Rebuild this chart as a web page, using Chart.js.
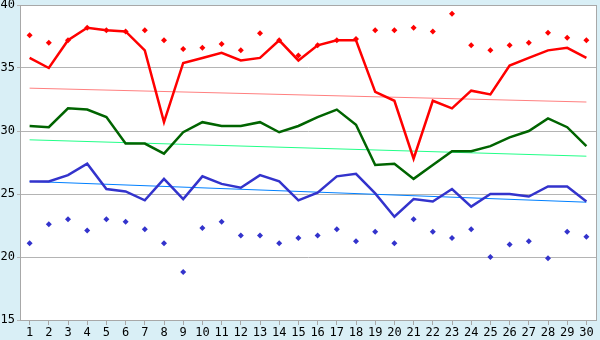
<!DOCTYPE html>
<html>
<head>
    <title>Temperature chart</title>
    <script src="https://cdn.jsdelivr.net/npm/chart.js@4.4.0/dist/chart.umd.js"></script>
    <style>
        body { margin: 0; background: #d9eff6; }
        #wrap { width: 600px; height: 340px; }
    </style>
</head>
<body>
    <div id="wrap"><canvas id="chart" width="600" height="340"></canvas></div>

    <script>
        const days = Array.from({ length: 30 }, (_, i) => String(i + 1));

        const redLine = [35.8, 35.0, 37.2, 38.2, 38.0, 37.9, 36.4, 30.7, 35.4, 35.8,
                         36.2, 35.6, 35.8, 37.2, 35.6, 36.8, 37.2, 37.2, 33.1, 32.4,
                         27.8, 32.4, 31.8, 33.2, 32.9, 35.2, 35.8, 36.4, 36.6, 35.8];
        const redPoints = [37.6, 37.0, 37.2, 38.2, 38.0, 37.9, 38.0, 37.2, 36.5, 36.6,
                           36.9, 36.4, 37.75, 37.2, 36.0, 36.8, 37.2, 37.3, 38.0, 38.0,
                           38.2, 37.9, 39.3, 36.8, 36.4, 36.8, 37.0, 37.8, 37.4, 37.2];
        const greenLine = [30.4, 30.3, 31.8, 31.7, 31.1, 29.0, 29.0, 28.2, 29.9, 30.7,
                           30.4, 30.4, 30.7, 29.9, 30.4, 31.1, 31.7, 30.5, 27.3, 27.4,
                           26.2, 27.3, 28.4, 28.4, 28.8, 29.5, 30.0, 31.0, 30.3, 28.8];
        const blueLine = [26.0, 26.0, 26.5, 27.4, 25.4, 25.2, 24.5, 26.2, 24.6, 26.4,
                          25.8, 25.5, 26.5, 26.0, 24.5, 25.1, 26.4, 26.6, 25.05, 23.2,
                          24.6, 24.4, 25.4, 24.0, 25.0, 25.0, 24.8, 25.6, 25.6, 24.4];
        const bluePoints = [21.1, 22.6, 23.0, 22.1, 23.0, 22.8, 22.2, 21.1, 18.8, 22.3,
                            22.8, 21.7, 21.7, 21.1, 21.5, 21.7, 22.2, 21.25, 22.0, 21.1,
                            23.0, 22.0, 21.5, 22.2, 20.0, 21.0, 21.25, 19.9, 22.0, 21.6];

        // trend lines: start and end values only
        const redTrend = [33.4, 32.3];
        const greenTrend = [29.3, 28.0];
        const blueTrend = [26.0, 24.35];

        function trend(ends) {
            const arr = new Array(days.length).fill(null);
            arr[0] = ends[0];
            arr[arr.length - 1] = ends[1];
            return arr;
        }

        const chartBg = {
            id: 'chartBg',
            beforeDraw(chart) {
                const { ctx, chartArea: a } = chart;
                ctx.save();
                ctx.fillStyle = '#d9eff6';
                ctx.fillRect(0, 0, chart.width, chart.height);
                ctx.fillStyle = '#ffffff';
                ctx.fillRect(a.left, a.top, a.right - a.left, a.bottom - a.top);
                ctx.restore();
            },
            afterDatasetsDraw(chart) {
                const { ctx, chartArea: a } = chart;
                ctx.save();
                ctx.strokeStyle = '#a8a8a8';
                ctx.lineWidth = 1;
                ctx.strokeRect(a.left + 0.5, a.top + 0.5, a.right - a.left, a.bottom - a.top);
                ctx.restore();
            }
        };

        const tickFont = { family: 'DejaVu Sans Mono', size: 12 };

        new Chart(document.getElementById('chart').getContext('2d'), {
            type: 'line',
            data: {
                labels: days,
                datasets: [
                    { data: redPoints, showLine: false, pointStyle: 'rectRot', pointRadius: 3,
                      backgroundColor: '#ff0000', borderColor: '#ff0000', borderWidth: 0, order: 1 },
                    { data: bluePoints, showLine: false, pointStyle: 'rectRot', pointRadius: 3,
                      backgroundColor: '#3333cc', borderColor: '#3333cc', borderWidth: 0, order: 1 },
                    { data: redLine, borderColor: '#ff0000', borderWidth: 2.5, pointRadius: 0, order: 2 },
                    { data: greenLine, borderColor: '#006400', borderWidth: 2.5, pointRadius: 0, order: 2 },
                    { data: blueLine, borderColor: '#3333cc', borderWidth: 2.5, pointRadius: 0, order: 2 },
                    { data: trend(redTrend), borderColor: '#ff8080', borderWidth: 1, pointRadius: 0, spanGaps: true, order: 3 },
                    { data: trend(greenTrend), borderColor: '#22ff88', borderWidth: 1, pointRadius: 0, spanGaps: true, order: 3 },
                    { data: trend(blueTrend), borderColor: '#0080ff', borderWidth: 1, pointRadius: 0, spanGaps: true, order: 3 }
                ]
            },
            options: {
                responsive: false,
                animation: false,
                layout: { padding: { top: 5, right: 4, left: 0, bottom: 0 } },
                plugins: { legend: { display: false }, tooltip: { enabled: false } },
                scales: {
                    x: {
                        offset: true,
                        grid: { offset: false, drawOnChartArea: false, color: '#a8a8a8', tickLength: 5 },
                        border: { color: '#a8a8a8' },
                        ticks: { color: '#000', font: tickFont, padding: 1, maxRotation: 0, autoSkip: false },
                        afterFit(scale) { scale.height = 20; scale.paddingLeft = 0; scale.paddingRight = 0; }
                    },
                    y: {
                        min: 15,
                        max: 40,
                        grid: { color: '#b4b4b4', tickLength: 3 },
                        border: { color: '#a8a8a8' },
                        ticks: { stepSize: 5, color: '#000', font: tickFont, padding: 2 },
                        afterFit(scale) { scale.width = 20; scale.paddingTop = 0; scale.paddingBottom = 0; }
                    }
                }
            },
            plugins: [chartBg]
        });
    </script>
</body>
</html>
